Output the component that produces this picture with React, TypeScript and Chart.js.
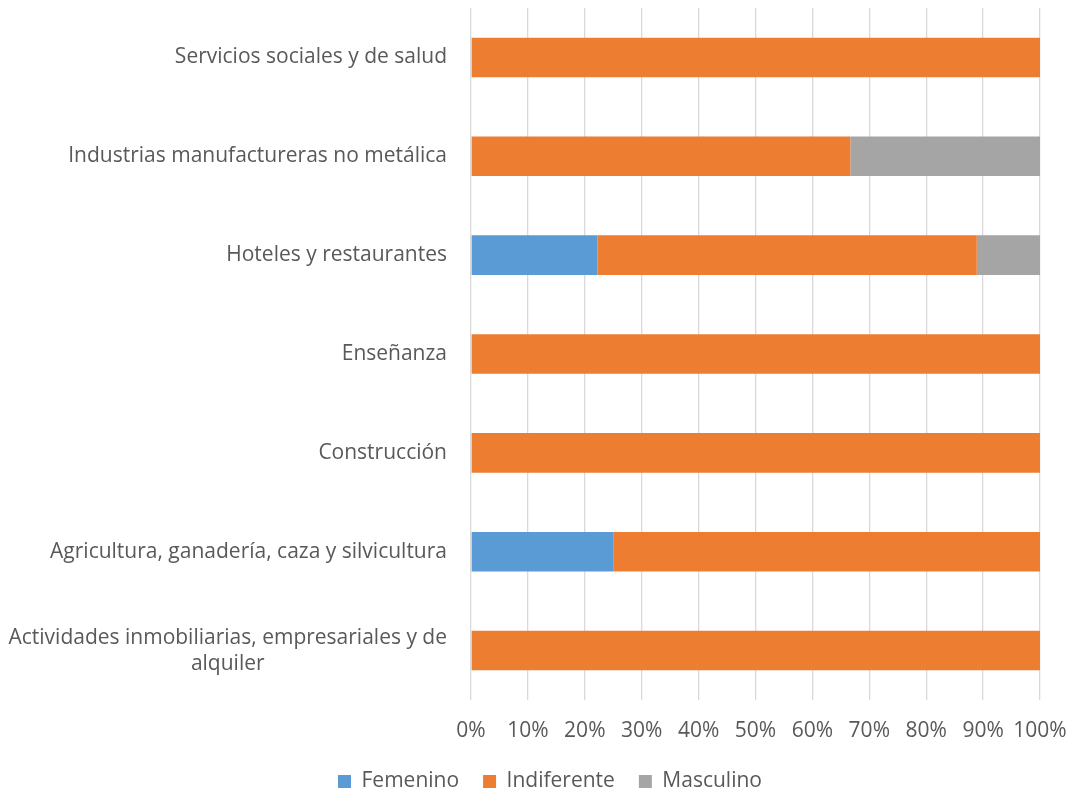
import React, { useEffect, useRef } from "react";
import { Chart, registerables } from "chart.js";

Chart.register(...registerables);

const categories: (string | string[])[] = [
  "Servicios sociales y de salud",
  "Industrias manufactureras no metálica",
  "Hoteles y restaurantes",
  "Enseñanza",
  "Construcción",
  "Agricultura, ganadería, caza y silvicultura",
  ["Actividades inmobiliarias, empresariales y de", "alquiler"],
];
const femenino = [0, 0, 22.22, 0, 0, 25, 0];
const indiferente = [100, 66.67, 66.67, 100, 100, 75, 100];
const masculino = [0, 33.33, 11.11, 0, 0, 0, 0];
const xTicks = [0, 10, 20, 30, 40, 50, 60, 70, 80, 90, 100];

const FONT = "'Open Sans', sans-serif";
const TEXT = "#595959";
const LABEL_SIZE = 21;

const yLabelPlugin = {
  id: "yLabels",
  afterLayout(chart: any) {
    const lg = chart.legend;
    if (lg) {
      lg.left += 30;
      lg.right += 30;
    }
  },
  afterDraw(chart: any) {
    const scale = chart.scales.y;
    const ctx = chart.ctx;
    ctx.save();
    ctx.font = `${LABEL_SIZE}px ${FONT}`;
    ctx.fillStyle = TEXT;
    ctx.textAlign = "center";
    ctx.textBaseline = "middle";
    const right = chart.chartArea.left - 24;
    const lh = 26;
    (chart.data.labels as any[]).forEach((lab, i) => {
      const lines: string[] = Array.isArray(lab) ? lab : [lab];
      const w = Math.max(...lines.map((l) => ctx.measureText(l).width));
      const cy = scale.getPixelForValue(i);
      lines.forEach((l, j) => {
        ctx.fillText(l, right - w / 2, cy + (j - (lines.length - 1) / 2) * lh);
      });
    });
    ctx.restore();
  },
};

export default function App() {
  const ref = useRef<HTMLCanvasElement>(null);
  useEffect(() => {
    if (!ref.current) return;
    const chart = new Chart(ref.current, {
      type: "bar",
      data: {
        labels: categories as any,
        datasets: [
          { label: "Femenino", data: femenino, backgroundColor: "#5b9bd5" },
          { label: "Indiferente", data: indiferente, backgroundColor: "#ed7d31" },
          { label: "Masculino", data: masculino, backgroundColor: "#a5a5a5" },
        ],
      },
      options: {
        indexAxis: "y",
        animation: false,
        responsive: false,
        maintainAspectRatio: false,
        layout: { padding: { top: 8, right: 30, left: 0, bottom: -7 } },
        datasets: { bar: { categoryPercentage: 1, barPercentage: 0.4 } } as any,
        scales: {
          x: {
            stacked: true,
            min: 0,
            max: 100,
            afterBuildTicks: (s: any) => {
              s.ticks = xTicks.map((v) => ({ value: v }));
            },
            afterFit: (s: any) => {
              s.height = 47;
              s.paddingRight = 0;
            },
            ticks: {
              callback: (v: any) => v + "%",
              color: TEXT,
              font: { family: FONT, size: LABEL_SIZE },
              padding: 18,
              maxRotation: 0,
              minRotation: 0,
              autoSkip: false,
            },
            grid: { color: "#d9d9d9", lineWidth: 1.3, drawTicks: false },
            border: { display: false },
          },
          y: {
            stacked: true,
            ticks: { display: false },
            grid: { display: false },
            border: { display: false },
            afterFit: (s: any) => {
              s.width = 471;
            },
          },
        },
        plugins: {
          legend: {
            position: "bottom",
            labels: {
              boxWidth: 13,
              boxHeight: 13,
              color: TEXT,
              font: { family: FONT, size: LABEL_SIZE },
              padding: 24,
            },
          },
          tooltip: { enabled: false },
        },
      },
      plugins: [yLabelPlugin],
    });
    return () => chart.destroy();
  }, []);
  return (
    <div style={{ position: "fixed", left: 0, top: 0, width: 1070, height: 795, background: "#fff" }}>
      <canvas ref={ref} width={1070} height={795} />
    </div>
  );
}
